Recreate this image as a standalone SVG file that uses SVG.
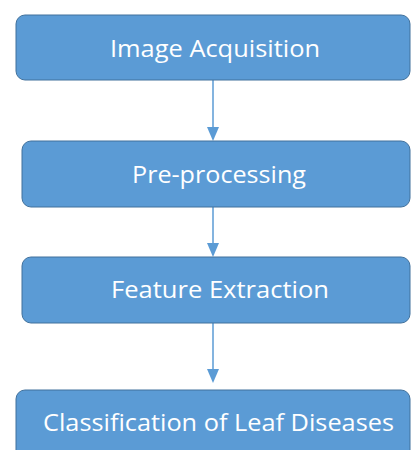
<svg xmlns="http://www.w3.org/2000/svg" width="411" height="450" viewBox="0 0 411 450">
<style>
.box{fill:#5B9BD5;stroke:#41719C;stroke-width:1}
.lbl{fill:#ffffff;font-family:"Open Sans","Noto Sans",sans-serif;font-size:24.5px;text-anchor:middle}
.conn{stroke:#5B9BD5;stroke-width:1.5;fill:none}
.head{fill:#5B9BD5}
</style>
<rect width="411" height="450" fill="#ffffff"/>
<g id="connectors">
<line class="conn" x1="213" y1="80" x2="213" y2="127"/>
<path class="head" d="M207,127 L219,127 L213,141 Z"/>
<line class="conn" x1="213" y1="207" x2="213" y2="243"/>
<path class="head" d="M207,243 L219,243 L213,257 Z"/>
<line class="conn" x1="213" y1="323" x2="213" y2="369"/>
<path class="head" d="M207,369 L219,369 L213,383 Z"/>
</g>
<g id="n1">
<rect class="box" x="16" y="15" width="394" height="65" rx="9"/>
<text class="lbl" x="215" y="57" textLength="210" lengthAdjust="spacingAndGlyphs">Image Acquisition</text>
</g>
<g id="n2">
<rect class="box" x="22" y="141" width="388" height="66" rx="9"/>
<text class="lbl" x="219" y="183" textLength="174" lengthAdjust="spacingAndGlyphs">Pre-processing</text>
</g>
<g id="n3">
<rect class="box" x="22" y="257" width="388" height="66" rx="9"/>
<text class="lbl" x="220" y="298" textLength="218" lengthAdjust="spacingAndGlyphs">Feature Extraction</text>
</g>
<g id="n4">
<rect class="box" x="16" y="390" width="394" height="70" rx="9"/>
<text class="lbl" x="218.5" y="431" textLength="351" lengthAdjust="spacingAndGlyphs">Classification of Leaf Diseases</text>
</g>
</svg>
